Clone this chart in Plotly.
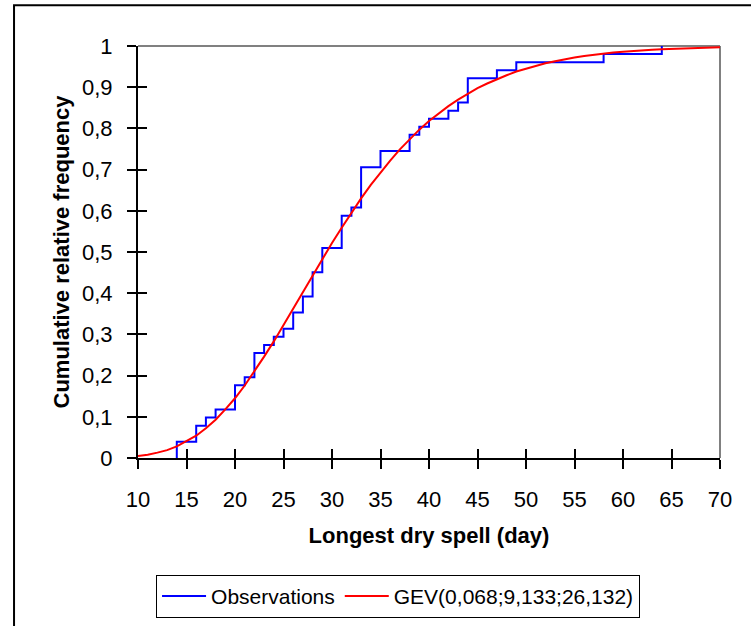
import plotly.graph_objects as go

# ---- data ----
n_obs = 51
obs_days = [14, 14, 16, 17, 18, 20, 21, 22, 23, 24, 25, 26, 27, 28, 29, 31, 32, 33, 35,
            38, 39, 40, 42, 43, 44, 47, 49, 58, 64]
obs_counts = [0, 2, 4, 5, 6, 9, 10, 13, 14, 15, 16, 18, 20, 23, 26, 30, 31, 36, 38,
              40, 41, 42, 43, 44, 47, 48, 49, 50, 51]
obs_freq = [c / n_obs for c in obs_counts]

gev_days = list(range(10, 71))
gev_freq = [0.005, 0.008, 0.013, 0.019, 0.028, 0.040, 0.054, 0.072, 0.093, 0.118,
            0.145, 0.176, 0.210, 0.246, 0.283, 0.323, 0.363, 0.403, 0.443, 0.483,
            0.522, 0.559, 0.595, 0.630, 0.663, 0.693, 0.722, 0.749, 0.774, 0.797,
            0.818, 0.837, 0.854, 0.870, 0.885, 0.898, 0.909, 0.920, 0.929, 0.938,
            0.945, 0.952, 0.958, 0.963, 0.968, 0.972, 0.976, 0.979, 0.982, 0.984,
            0.986, 0.988, 0.990, 0.991, 0.992, 0.993, 0.994, 0.995, 0.996, 0.997,
            0.997]

x_ticks = list(range(10, 71, 5))
x_title = "Longest dry spell (day)"
y_title = "Cumulative relative frequency"
obs_name = "Observations"
gev_name = "GEV(0,068;9,133;26,132)"

FONT = "Liberation Sans, Arial, sans-serif"

fig = go.Figure()
fig.add_trace(go.Scatter(x=obs_days, y=obs_freq, mode="lines", line_shape="hv",
                         line=dict(color="#0000FF", width=2), name=obs_name))
# the fitted curve lives on the overlay axes (same ranges) so their inward ticks are drawn
fig.add_trace(go.Scatter(x=gev_days, y=gev_freq, mode="lines", xaxis="x2", yaxis="y2",
                         line=dict(color="#FF0000", width=2), name=gev_name))

axis_common = dict(showgrid=False, zeroline=False, automargin=False)

fig.update_layout(
    width=751, height=626,
    margin=dict(l=138, r=31, t=46, b=168, autoexpand=False),
    paper_bgcolor="white", plot_bgcolor="white",
    separators=", ",
    font=dict(family=FONT, size=22, color="black"),
    showlegend=True,
    legend=dict(orientation="h", x=0.031, y=-0.2838, xanchor="left", yanchor="top",
                bordercolor="black", borderwidth=1, font=dict(size=21),
                bgcolor="white", itemwidth=44),
    xaxis=dict(range=[10, 70], tickvals=x_ticks, ticks="outside", ticklen=9,
               tickwidth=2, tickcolor="black", showline=True, linecolor="black",
               linewidth=2, ticklabelstandoff=12,
               title=dict(text=x_title, font=dict(size=22, family=FONT, weight="bold"),
                          standoff=16),
               **axis_common),
    yaxis=dict(range=[0, 1], dtick=0.1, tick0=0, ticks="outside", ticklen=9,
               tickwidth=2, tickcolor="black", showline=True, linecolor="black",
               linewidth=2, ticklabelstandoff=10,
               title=dict(text=y_title, font=dict(size=22, family=FONT, weight="bold"),
                          standoff=6),
               **axis_common),
    xaxis2=dict(overlaying="x", range=[10, 70], tickvals=x_ticks, ticks="inside",
                ticklen=9, tickwidth=2, tickcolor="black", showticklabels=False,
                showline=False, anchor="y2", side="bottom", **axis_common),
    yaxis2=dict(overlaying="y", range=[0, 1], dtick=0.1, tick0=0, ticks="inside",
                ticklen=9, tickwidth=2, tickcolor="black", showticklabels=False,
                showline=False, anchor="x2", side="left", **axis_common),
)

# plot-area frame (grey top and right) and outer chart frame
fig.add_shape(type="line", xref="paper", yref="paper", x0=0, x1=1, y0=1, y1=1,
              line=dict(color="#808080", width=2), layer="below")
fig.add_shape(type="line", xref="paper", yref="paper", x0=1, x1=1, y0=0, y1=1,
              line=dict(color="#808080", width=2), layer="below")
fig.add_shape(type="rect", xref="paper", yref="paper", x0=-0.213, x1=1.07,
              y0=-0.43, y1=1.0987, line=dict(color="black", width=2))

fig.write_html("out.html")
